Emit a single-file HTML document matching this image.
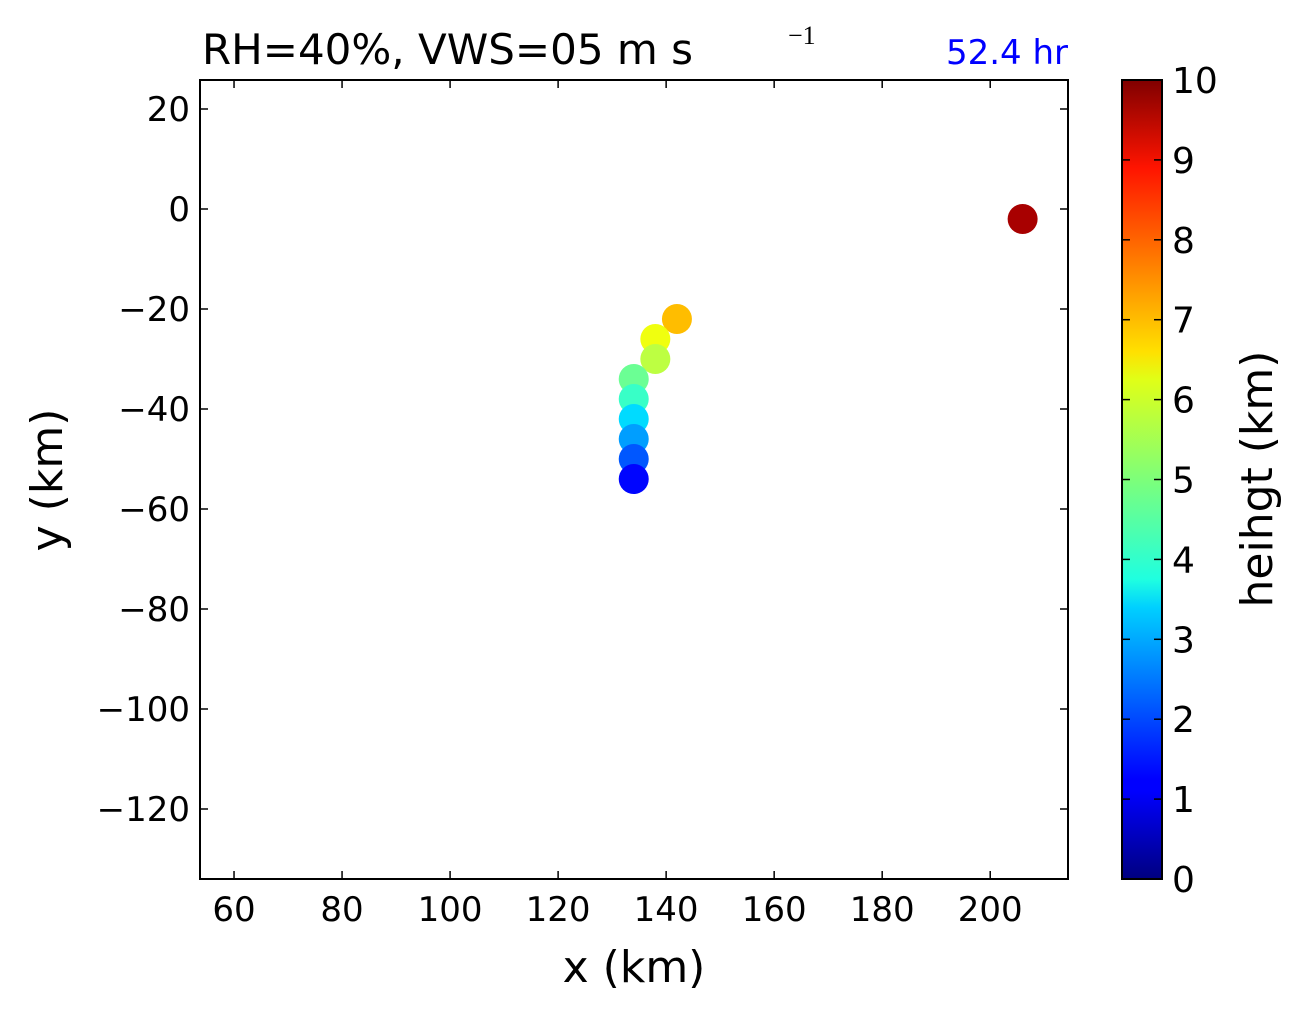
<!DOCTYPE html>
<html><head><meta charset="utf-8"><style>
body{margin:0;background:#fff;font-family:"Liberation Sans","DejaVu Sans",sans-serif}
</style></head><body>
<svg id="c" width="1304" height="1012" xmlns="http://www.w3.org/2000/svg" font-family="DejaVu Sans, Liberation Sans, sans-serif">
<defs>
<linearGradient id="jet" x1="0" y1="1" x2="0" y2="0">
<stop offset="0" stop-color="#000080"/><stop offset="0.11" stop-color="#0000ff"/><stop offset="0.125" stop-color="#0000ff"/>
<stop offset="0.34" stop-color="#00d0ff"/><stop offset="0.375" stop-color="#1fffe0"/><stop offset="0.5" stop-color="#7dff7a"/>
<stop offset="0.625" stop-color="#e0ff17"/><stop offset="0.66" stop-color="#ffe000"/><stop offset="0.89" stop-color="#ff1400"/><stop offset="1" stop-color="#800000"/>
</linearGradient>
</defs>
<g id="plot"></g>
</svg>
<script>
const xs=[206,142,138,138,134,134,134,134,134,134];
const ys=[-2,-22,-26,-30,-34,-38,-42,-46,-50,-54];
const hs=[9.6,6.9,6.1,5.6,4.8,4.3,3.4,2.8,2.1,1.3];
const xTicks=[60,80,100,120,140,160,180,200];
const yTicks=[20,0,-20,-40,-60,-80,-100,-120];
const cTicks=[0,1,2,3,4,5,6,7,8,9,10];
const L=200,R=1068,T=80,B=879;
const X0=53.7,X1=214.4,Y0=-134,Y1=25.8;
const sx=v=>L+(v-X0)/(X1-X0)*(R-L);
const sy=v=>B-(v-Y0)/(Y1-Y0)*(B-T);
const NS="http://www.w3.org/2000/svg";
const g=document.getElementById('plot');
function mk(t,a,txt){const e=document.createElementNS(NS,t);for(const k in a)e.setAttribute(k,a[k]);if(txt!==undefined)e.textContent=txt;g.appendChild(e);return e;}
function jet(t){const c=x=>Math.round(255*Math.max(0,Math.min(1,x)));return `rgb(${c(1.5-Math.abs(4*t-3))},${c(1.5-Math.abs(4*t-2))},${c(1.5-Math.abs(4*t-1))})`;}
for(let i=0;i<xs.length;i++){
 const p=mk('circle',{cx:sx(xs[i]),cy:sy(ys[i]),r:15,fill:jet(hs[i]/10)});
 
 
}
const fr=mk('rect',{x:L,y:T,width:R-L,height:B-T,fill:'none',stroke:'#000','stroke-width':2});


xTicks.forEach(v=>{const x=sx(v);
 mk('line',{x1:x,y1:B,x2:x,y2:B-8,stroke:'#000','stroke-width':1.5});
 mk('line',{x1:x,y1:T,x2:x,y2:T+8,stroke:'#000','stroke-width':1.5});
 const t=mk('text',{x:x,y:B+42,'font-size':34,'text-anchor':'middle'},String(v));
 
 
});
yTicks.forEach(v=>{const y=sy(v);
 mk('line',{x1:L,y1:y,x2:L+8,y2:y,stroke:'#000','stroke-width':1.5});
 mk('line',{x1:R,y1:y,x2:R-8,y2:y,stroke:'#000','stroke-width':1.5});
 const t=mk('text',{x:L-10,y:y+12,'font-size':34,'text-anchor':'end'},v<0?'\u2212'+(-v):String(v));
 
 
});
let t=mk('text',{x:(L+R)/2,y:982,'font-size':44,'text-anchor':'middle'},'x (km)');


t=mk('text',{x:62,y:480,'font-size':44,'text-anchor':'middle',transform:'rotate(-90 62 480)'},'y (km)');


t=mk('text',{x:202,y:64,'font-size':42},'RH=40%, VWS=05 m s');


t=mk('text',{x:788,y:44,'font-size':26,'font-family':'Liberation Serif, serif'},'\u22121');


t=mk('text',{x:1068,y:64,'font-size':34,'text-anchor':'end',fill:'#0000ff'},'52.4 hr');


const CL=1122,CR=1162;
const cb=mk('rect',{x:CL,y:T,width:CR-CL,height:B-T,fill:'url(#jet)',stroke:'#000','stroke-width':2});


cTicks.forEach(v=>{const y=B-v/10*(B-T);
 mk('line',{x1:CR,y1:y,x2:CR-8,y2:y,stroke:'#000','stroke-width':1.5});
 mk('line',{x1:CL,y1:y,x2:CL+8,y2:y,stroke:'#000','stroke-width':1.5});
 const tt=mk('text',{x:CR+10,y:y+13,'font-size':36},String(v));
 
 
});
t=mk('text',{x:1272,y:479,'font-size':44,'text-anchor':'middle',transform:'rotate(-90 1272 479)'},'heihgt (km)');


</script>
</body></html>
